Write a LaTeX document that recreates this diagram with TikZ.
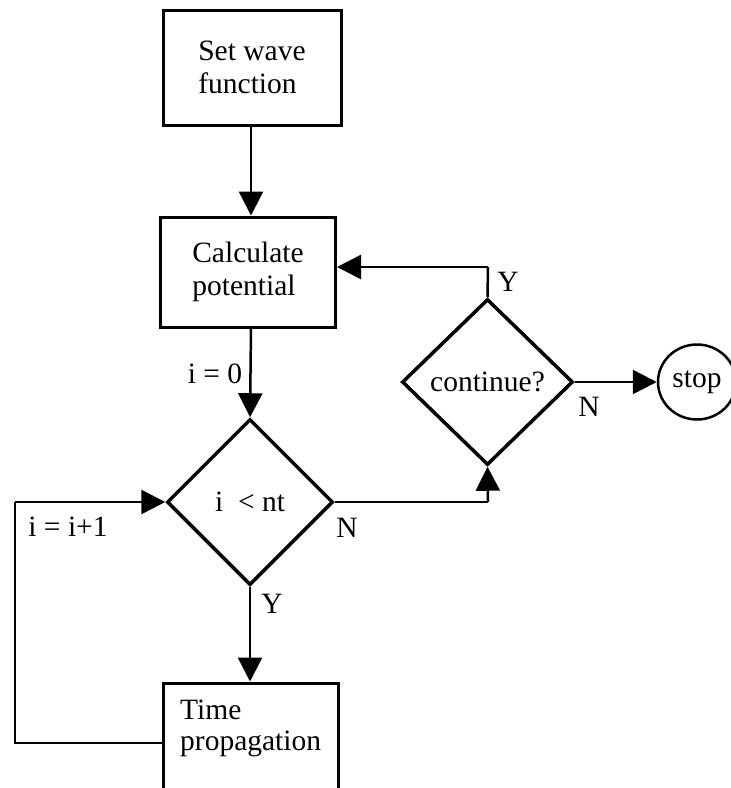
\documentclass[tikz,border=0pt]{standalone}
\usepackage{fontspec}
\setmainfont{Liberation Serif}
\usetikzlibrary{arrows.meta,shapes.geometric}
\tikzset{
  box/.style={draw, line width=3pt, rectangle, align=left, inner sep=0pt},
  decision/.style={draw, line width=3.5pt, diamond, inner sep=0pt, align=center},
  term/.style={draw, line width=2.5pt, ellipse, inner sep=0pt},
  conn/.style={line width=2.5pt},
  arr/.style={conn, -{Triangle[length=24pt,width=24pt]}},
  lbl/.style={inner sep=0pt}
}
\begin{document}
\begin{tikzpicture}[x=1pt,y=-1pt,font=\fontsize{29.5}{33}\selectfont]
\useasboundingbox (0,0) rectangle (731,788);
\clip (0,0) rectangle (731,788);
\node[box, minimum width=178pt, minimum height=115pt] (b1) at (252,67.5) {Set wave\\function};
\node[box, minimum width=175pt, minimum height=110pt] (b2) at (248,272) {Calculate\\potential};
\node[decision, minimum width=166pt, minimum height=166pt] (d1) at (250,502) {i~ {<} nt};
\node[decision, minimum width=171pt, minimum height=166pt] (d2) at (487.5,382) {continue?};
\node[term, minimum width=78pt, minimum height=75pt] (stop) at (697,382) {stop};
\node[box, minimum width=175pt, minimum height=140pt] (b3) at (250.5,753) {};
\node[lbl, anchor=north west, align=left, font=\fontsize{29.5}{31}\selectfont] (b3t) at (180,700) {Time\\propagation};
\coordinate (loopA) at (15,743);
\coordinate (loopB) at (15,502);
\coordinate (c1) at (488,502);
\coordinate (c2) at (488,267);
% connectors
\draw[arr] (b1.south -| 251,0) -- (b2.north -| 251,0);
\draw[arr] (b2.south -| 251,0) -- (d1.north);
\draw[arr] (d1.south) -- (b3.north -| d1.south);
\draw[conn] (b3.west |- loopA) -- (loopA) -- (loopB);
\draw[arr] (loopB) -- (d1.west);
\draw[conn] (d1.east) -- (c1);
\draw[arr] (c1) -- (d2.south);
\draw[conn] (d2.north) -- (c2);
\draw[arr] (c2) -- (b2.east |- c2);
\draw[arr] (d2.east) -- (stop.west);
% labels
\node[lbl] (ly1) at (508,282) {Y};
\node[lbl] (ln2) at (589,407) {N};
\node[lbl] (ln1) at (347,528) {N};
\node[lbl] (ly2) at (272,604) {Y};
\node[lbl] (li0) at (215,374) {i = 0};
\node[lbl] (lii) at (68,527) {i = i+1};
\end{tikzpicture}
\end{document}
